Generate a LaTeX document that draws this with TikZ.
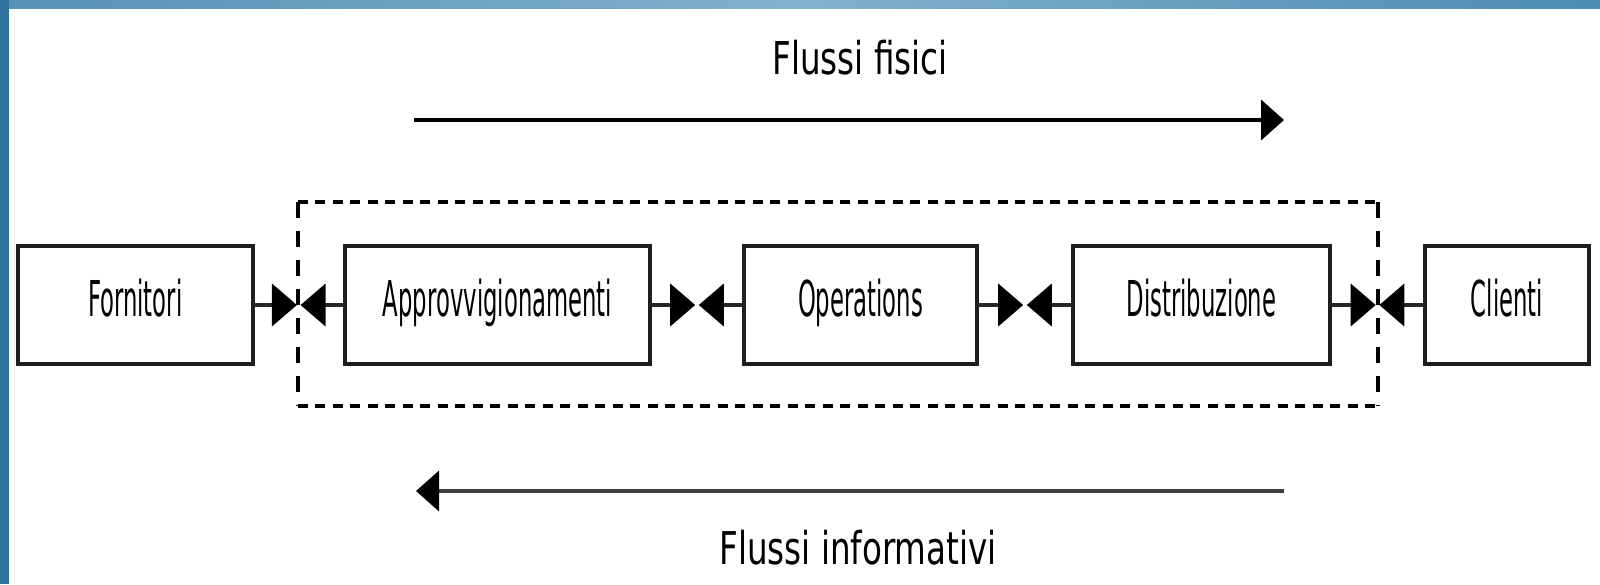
\documentclass[tikz,border=0pt]{standalone}
\usepackage{fontspec}
\setmainfont{DejaVu Sans}
\newfontfamily\boxfont{DejaVu Sans}[FakeStretch=0.46]
\newfontfamily\flowfont{DejaVu Sans}[FakeStretch=0.72]
\usetikzlibrary{arrows.meta,calc}
\definecolor{bandL}{HTML}{2E71A0}
\definecolor{bandM}{HTML}{80B1CD}
\definecolor{bandR}{HTML}{1B6699}
\definecolor{bar}{HTML}{2F73A0}
\pgfdeclarehorizontalshading{topband}{100bp}{color(0bp)=(bandL); color(50bp)=(bandM); color(100bp)=(bandR)}
\begin{document}
\begin{tikzpicture}[x=0.5pt,y=-0.5pt,
  stage/.style={draw=black!88, line width=2pt, fill=white, inner sep=0pt,
    minimum height=59pt, text height=18pt, text depth=6.3pt,
    font=\boxfont\fontsize{24.7pt}{29pt}\selectfont},
  link/.style={draw=black!85, line width=2pt,
    -{Triangle[length=12.5pt,width=21pt,color=black]}, shorten >=0.9pt},
  flow/.style={line width=2pt, -{Triangle[length=11.5pt,width=20pt,color=black]}},
  flowlabel/.style={inner sep=0pt, anchor=base,
    font=\flowfont\fontsize{22.6pt}{27pt}\selectfont},
  hdash/.style={line width=2pt, dash pattern=on 5pt off 3.75pt},
  vdash/.style={line width=2pt, dash pattern=on 8pt off 6.5pt}]
\useasboundingbox (0,0) rectangle (1600,584);
\fill[white] (0,0) rectangle (1600,584);
% frame bands
\shade[shading=topband] (0,0) rectangle (1600,8);
\fill[bar] (0,0) rectangle (9,584);

% company boundary (dashed)
\coordinate (dtl) at (297.5,202);
\coordinate (dtr) at (1378,202);
\coordinate (dbl) at (297.5,406);
\coordinate (dbr) at (1378,406);
\draw[hdash] (dtl) -- (dtr);
\draw[hdash] (dbl) -- (dbr);
\draw[vdash] (dtl) -- (dbl);
\draw[vdash] (dtr) -- (dbr);

% supply chain stages
\node[stage, minimum width=117.25pt] (forn) at (135.25,305) {Fornitori};
\node[stage, minimum width=152.5pt]  (appr) at (497.5,305) {Approvvigionamenti};
\node[stage, minimum width=116.5pt]  (oper) at (860.5,305) {Operations};
\node[stage, minimum width=128.5pt]  (dist) at (1201.5,305) {Distribuzione};
\node[stage, minimum width=82pt]     (clie) at (1507,305) {Clienti};

% meeting points between neighbouring stages
\coordinate (m1) at ($(forn.east)!0.5!(appr.west)$);
\coordinate (m2) at ($(appr.east)!0.5!(oper.west)$);
\coordinate (m3) at ($(oper.east)!0.5!(dist.west)$);
\coordinate (m4) at ($(dist.east)!0.5!(clie.west)$);
\foreach \a/\b/\m in {forn/appr/m1, appr/oper/m2, oper/dist/m3, dist/clie/m4}{
  \draw[link] (\a) -- (\m);
  \draw[link] (\b) -- (\m);
}

% physical and information flows
\node[flowlabel] (ffis) at (860,74) {Flussi fisici};
\coordinate (fisA) at (414,120);
\coordinate (fisB) at (1284,120);
\draw[flow, draw=black] (fisA) -- (fisB);

\coordinate (infA) at (1284,491);
\coordinate (infB) at (416,491);
\draw[flow, draw=black!75] (infA) -- (infB);
\node[flowlabel] (finf) at (858,564) {Flussi informativi};
\end{tikzpicture}
\end{document}
